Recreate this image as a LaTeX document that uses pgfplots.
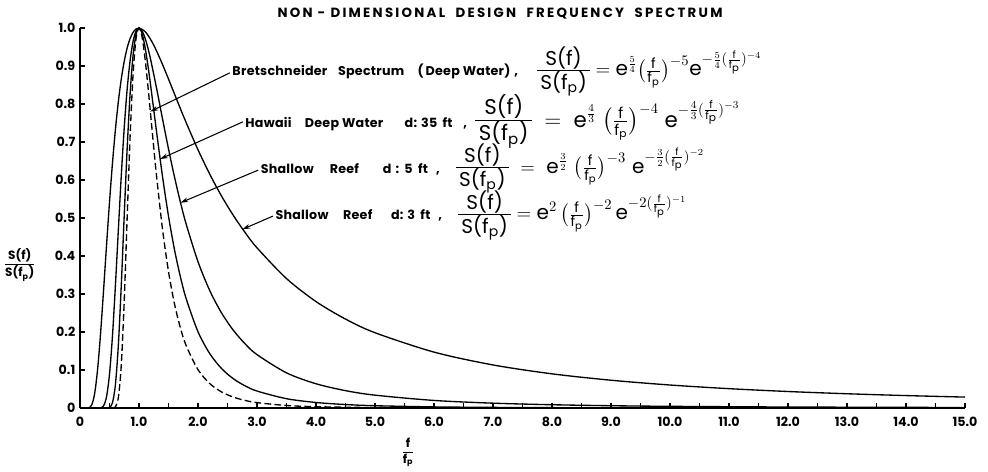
\documentclass[border=0pt]{standalone}
\usepackage{amsmath}
\usepackage{fontspec}
\setmainfont{Poppins}
\usepackage{pgfplots}
\pgfplotsset{compat=1.18}
\usetikzlibrary{arrows.meta}

% label and equation fonts
\newcommand{\lbl}{\bfseries\fontsize{9.5}{11}\selectfont\addfontfeatures{LetterSpace=2}}
\newcommand{\eqn}[2]{{\mdseries\fontsize{#1}{#1}\selectfont$\displaystyle #2$}}
\newcommand{\rr}[1]{\mathrm{#1}}
% compact S(f)/S(fp) stack
\newcommand{\ratio}{\mbox{\renewcommand{\arraystretch}{0.8}\setlength{\arrayrulewidth}{0.6pt}%
  \begin{tabular}{@{\,}c@{\,}}S(f)\\\hline S(f\textsubscript{p})\end{tabular}}}
\newcommand{\ffp}{\tfrac{\rr{f}}{\rr{f_p}}}
\newcommand{\gap}{}

\begin{document}
\begin{tikzpicture}
\useasboundingbox (-60pt,-47.25pt) rectangle (681pt,306pt);
\begin{axis}[
  at={(0pt,0pt)}, anchor=south west,
  scale only axis, width=663.75pt, height=285pt,
  xmin=0, xmax=15, ymin=0, ymax=1,
  axis x line*=bottom, axis y line*=left,
  axis line style={line width=0.8pt, black},
  xtick={0,1,2,3,4,5,6,7,8,9,10,11,12,13,14,15},
  minor xtick={0.5,1.5,2.5,3.5,4.5,5.5,6.5,7.5,8.5,9.5,10.5,11.5,12.5,13.5,14.5},
  ytick={0,0.1,0.2,0.3,0.4,0.5,0.6,0.7,0.8,0.9,1.0},
  xticklabels={\textbf{0},\textbf{1.0},\textbf{2.0},\textbf{3.0},\textbf{4.0},\textbf{5.0},\textbf{6.0},\textbf{7.0},\textbf{8.0},\textbf{9.0},\textbf{10.0},\textbf{11.0},\textbf{12.0},\textbf{13.0},\textbf{14.0},\textbf{15.0}},
  yticklabels={\textbf{0},\textbf{0.1},\textbf{0.2},\textbf{0.3},\textbf{0.4},\textbf{0.5},\textbf{0.6},\textbf{0.7},\textbf{0.8},\textbf{0.9},\textbf{1.0}},
  tick align=inside, major tick length=4pt, minor tick length=4pt,
  tick style={line width=0.8pt, black},
  tick label style={font=\fontsize{9.5}{10}\selectfont},
  xticklabel style={yshift=-3pt},
  clip=false,
]
% S(f)/S(fp) = e^{n/(n-1)} (f/fp)^{-n} exp(-n/(n-1) (f/fp)^{-(n-1)})
% Shallow reef, d = 3 ft  (n = 2)
\addplot[black, line width=1pt, smooth] coordinates {
(0.12,0)(0.15,0.0005)(0.2,0.0084)(0.25,0.0397)(0.3,0.1045)(0.35,0.1990)(0.4,0.3112)(0.45,0.4285)(0.5,0.5413)(0.55,0.6436)(0.6,0.7322)(0.65,0.8062)(0.7,0.8661)(0.75,0.9127)(0.8,0.9477)(0.85,0.9725)(0.9,0.9886)(0.95,0.9973)(1,1)(1.1,0.9912)(1.2,0.9692)(1.3,0.9388)(1.4,0.9035)(1.5,0.8657)(1.6,0.8270)(1.7,0.7884)(1.8,0.7508)(2,0.6796)(2.2,0.6151)(2.4,0.5575)(2.6,0.5065)(2.8,0.4614)(3,0.4215)(3.5,0.3406)(4,0.2801)(4.5,0.2340)(5,0.1981)(6,0.1471)(7,0.1133)(8,0.0899)(9,0.0731)(10,0.0605)(11,0.0509)(12,0.0434)(13,0.0375)(14,0.0327)(15,0.0287)
};
% Shallow reef, d = 5 ft  (n = 3)
\addplot[black, line width=1pt, smooth] coordinates {
(0.33,0)(0.35,0.0005)(0.4,0.0059)(0.45,0.0298)(0.5,0.0889)(0.55,0.1891)(0.6,0.3217)(0.65,0.4686)(0.7,0.6119)(0.75,0.7381)(0.8,0.8400)(0.85,0.9152)(0.9,0.9649)(0.95,0.9919)(1,1)(1.05,0.9931)(1.1,0.9747)(1.15,0.9479)(1.2,0.9152)(1.3,0.8398)(1.4,0.7598)(1.5,0.6818)(1.6,0.6090)(1.7,0.5428)(1.8,0.4837)(2,0.3850)(2.2,0.3087)(2.4,0.2499)(2.6,0.2043)(2.8,0.1686)(3,0.1405)(3.5,0.0925)(4,0.0638)(4.5,0.0457)(5,0.0338)(6,0.0199)(7,0.0127)(8,0.0086)(9,0.0060)(10,0.0044)(12,0.0026)(15,0.0013)
};
% Hawaii deep water, d = 35 ft  (n = 4)
\addplot[black, line width=1pt, smooth] coordinates {
(0.45,0)(0.5,0.0014)(0.55,0.0137)(0.6,0.0610)(0.65,0.1655)(0.7,0.3239)(0.75,0.5084)(0.8,0.6851)(0.85,0.8289)(0.9,0.9285)(0.95,0.9835)(1,1)(1.05,0.9865)(1.1,0.9516)(1.15,0.9027)(1.2,0.8457)(1.3,0.7240)(1.4,0.6075)(1.5,0.5048)(1.6,0.4180)(1.7,0.3463)(1.8,0.2875)(2,0.2007)(2.2,0.1429)(2.4,0.1038)(2.6,0.0769)(2.8,0.0581)(3,0.0446)(3.5,0.0245)(4,0.0145)(4.5,0.0091)(5,0.0060)(6,0.0029)(7,0.0016)(8,0.0009)(10,0.0004)
};
% Bretschneider, deep water  (n = 5)
\addplot[black, line width=1pt, smooth, dash pattern=on 5pt off 2.5pt] coordinates {
(0.55,0.0001)(0.6,0.0029)(0.65,0.0274)(0.7,0.1139)(0.75,0.2830)(0.8,0.5036)(0.85,0.7175)(0.9,0.8795)(0.95,0.9722)(1,1)(1.05,0.9779)(1.1,0.9228)(1.15,0.8492)(1.2,0.7677)(1.25,0.6855)(1.3,0.6069)(1.4,0.4687)(1.5,0.3591)(1.6,0.2751)(1.7,0.2117)(1.8,0.1640)(2,0.1009)(2.2,0.0642)(2.4,0.0422)(2.6,0.0286)(2.8,0.0199)(3,0.0141)(3.5,0.0066)(4,0.0034)(5,0.0011)(6,0.0005)(8,0.0001)
};

% leader arrows
\draw[-{Stealth[length=6pt,width=3.5pt]}, line width=0.8pt] (axis cs:2.54,0.882) -- (axis cs:1.19,0.78);
\draw[-{Stealth[length=6pt,width=3.5pt]}, line width=0.8pt] (axis cs:2.76,0.753) -- (axis cs:1.355,0.655);
\draw[-{Stealth[length=6pt,width=3.5pt]}, line width=0.8pt] (axis cs:3.02,0.626) -- (axis cs:1.70,0.54);
\draw[-{Stealth[length=6pt,width=3.5pt]}, line width=0.8pt] (axis cs:3.27,0.505) -- (axis cs:2.75,0.47);

% curve labels
\node[anchor=base west, inner sep=0pt] at (axis cs:2.58,0.874)
  {\lbl Bretschneider\hspace{8pt}Spectrum\hspace{10pt}(\,Deep Water)\hspace{3pt},};
\node[anchor=base west, inner sep=0pt] at (axis cs:2.80,0.739)
  {\lbl Hawaii\hspace{10pt}Deep Water\hspace{16pt}d:\hspace{3pt}35\hspace{4pt}ft\hspace{8pt},};
\node[anchor=base west, inner sep=0pt] at (axis cs:3.06,0.618)
  {\lbl Shallow\hspace{12pt}Reef\hspace{18pt}d\hspace{3pt}:\hspace{4pt}5\hspace{4pt}ft\hspace{6pt},};
\node[anchor=base west, inner sep=0pt] at (axis cs:3.31,0.495)
  {\lbl Shallow\hspace{11pt}Reef\hspace{14pt}d:\hspace{3pt}3\hspace{4pt}ft\hspace{6pt},};

% spectrum formulas
\node[anchor=base east, inner sep=0pt] at (axis cs:11.56,0.874)
  {\eqn{15}{\ratio = \rr{e}^{\frac{5}{4}}\bigl(\ffp\bigr)^{-5}\rr{e}^{-\frac{5}{4}(\frac{\rr{f}}{\rr{f_p}})^{-4}}}};
\node[anchor=base east, inner sep=0pt] at (axis cs:11.19,0.739)
  {\renewcommand{\gap}{\hspace{4.5pt}}\eqn{16}{\ratio\gap = \gap\rr{e}^{\frac{4}{3}}\gap\bigl(\ffp\bigr)^{-4}\gap\rr{e}^{-\frac{4}{3}(\frac{\rr{f}}{\rr{f_p}})^{-3}}}};
\node[anchor=base east, inner sep=0pt] at (axis cs:10.59,0.618)
  {\renewcommand{\gap}{\hspace{4.5pt}}\eqn{15}{\ratio\gap = \gap\rr{e}^{\frac{3}{2}}\gap\bigl(\ffp\bigr)^{-3}\gap\rr{e}^{-\frac{3}{2}(\frac{\rr{f}}{\rr{f_p}})^{-2}}}};
\node[anchor=base east, inner sep=0pt] at (axis cs:10.29,0.495)
  {\eqn{15}{\ratio = \rr{e}^{2}\,\bigl(\ffp\bigr)^{-2}\,\rr{e}^{-2(\frac{\rr{f}}{\rr{f_p}})^{-1}}}};

% title and axis labels
\node[font=\bfseries\fontsize{10}{12}\selectfont\addfontfeatures{LetterSpace=17}] at (axis cs:7.12,1.039)
  {NON - DIMENSIONAL\hspace{4pt} DESIGN\hspace{4pt} FREQUENCY\hspace{4pt} SPECTRUM};
\node[font=\bfseries\fontsize{9}{11}\selectfont] at (axis cs:-1.02,0.376)
  {$\dfrac{\text{\bfseries S(f)}}{\text{\bfseries S(f}_{\text{\bfseries p}}\text{\bfseries )}}$};
\node[font=\bfseries\fontsize{9}{11}\selectfont] at (axis cs:5.56,-0.116)
  {$\dfrac{\text{\bfseries f}}{\text{\bfseries f}_{\text{\bfseries p}}}$};
\end{axis}
\end{tikzpicture}
\end{document}
